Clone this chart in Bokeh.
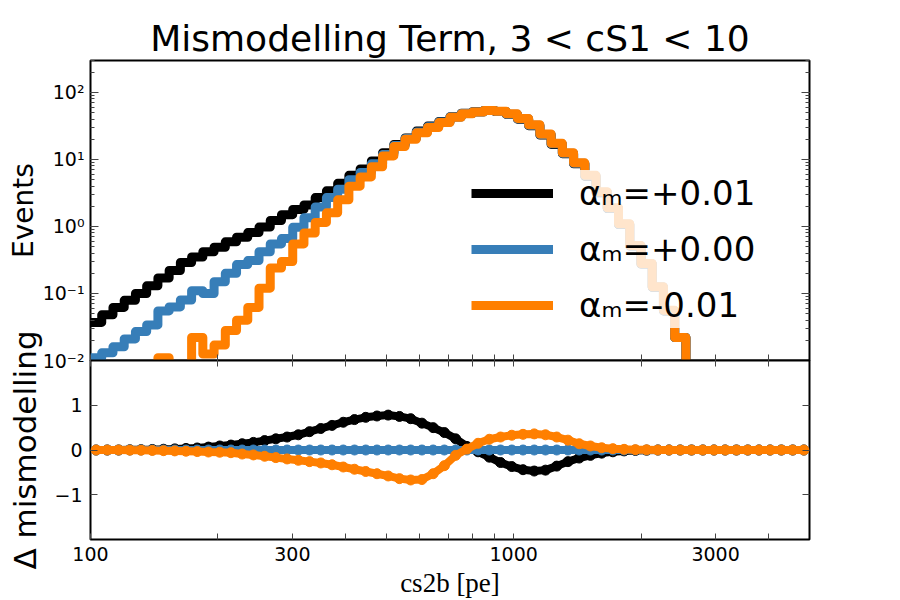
import numpy as np
from bokeh.plotting import figure
from bokeh.layouts import column
from bokeh.models import (Range1d, FixedTicker, LogTicker, LogAxis, LinearAxis,
                          CustomJSTickFormatter, Legend, LegendItem)
from bokeh.embed import file_html
from bokeh.resources import INLINE

# ---------------- data ----------------
TITLE = "Mismodelling Term, 3 < cS1 < 10"
X_LABEL = "cs2b [pe]"
Y_LABEL_TOP = "Events"
Y_LABEL_BOTTOM = "\u0394 mismodelling"
SERIES_LABELS = ["\u03b1\u2098=+0.01", "\u03b1\u2098=+0.00", "\u03b1\u2098=-0.01"]
SERIES_COLORS = ["#000000", "#377eb8", "#ff7f00"]

X_MIN, X_MAX = 100, 5000
N_BINS = 64
bin_edges = np.logspace(np.log10(X_MIN), np.log10(X_MAX), N_BINS + 1)
bin_centers = np.sqrt(bin_edges[:-1] * bin_edges[1:])

x_tick_values = [100, 200, 300, 400, 500, 600, 700, 800, 900, 1000, 2000, 3000, 4000]
x_tick_labels = [100, 300, 1000, 3000]
y_ticks_bottom = [-1, 0, 1]

# events per bin, alpha_m = +0.01
events_plus = [0.037, 0.048, 0.062, 0.079, 0.10, 0.13, 0.17, 0.22, 0.29, 0.35,
               0.42, 0.49, 0.59, 0.69, 0.81, 0.98, 1.23, 1.5, 1.8, 2.1,
               2.7, 3.4, 4.4, 5.8, 7.2, 9.5, 12.6, 16.8,
               21, 26.5, 31.5, 37, 43.5, 49, 51.5, 54, 52, 47, 40, 32,
               23.2, 16.8, 12.2, 8.6, 5.6, 3.2, 1.85, 1.07, 0.51, 0.275,
               0.124, 0.055, 0.022,
               0.008, 0.003, 0, 0, 0, 0, 0, 0, 0, 0, 0]
# alpha_m = +0.00
events_zero = [0.011, 0.013, 0.016, 0.021, 0.027, 0.034, 0.055, 0.063, 0.08, 0.11,
               0.10, 0.15, 0.20, 0.27, 0.31, 0.42, 0.55, 0.66, 0.97, 1.35,
               1.95, 2.7, 3.6, 5.0, 6.4, 8.6, 11.9, 16.2,
               20.5, 25.7, 30.7, 36.2, 43, 48.5, 51.2, 54, 52.2, 47.5, 40.5, 32.5,
               23.6, 17.1, 12.4, 8.75, 5.7, 3.25, 1.87, 1.08, 0.515, 0.277,
               0.125, 0.055, 0.022,
               0.004, 0, 0, 0, 0, 0, 0, 0, 0, 0, 0]
# alpha_m = -0.01
events_minus = [0, 0, 0, 0, 0, 0, 0.011, 0, 0, 0.022,
                0.0125, 0.017, 0.028, 0.04, 0.062, 0.12, 0.24, 0.30, 0.55, 0.80,
                1.15, 1.6, 2.5, 4.0, 5.5, 7.8, 11.3, 15.6,
                20, 25, 30, 35.5, 42.5, 48, 51, 54, 52.5, 48, 41, 33,
                24, 17.4, 12.6, 8.9, 5.8, 3.3, 1.9, 1.1, 0.52, 0.28,
                0.126, 0.056, 0.022,
                0, 0, 0, 0, 0, 0, 0, 0, 0, 0, 0]

# mismodelling difference per bin
delta_plus = [0, 0, 0, 0.005, 0.008, 0.012, 0.017, 0.025, 0.035, 0.045,
              0.065, 0.09, 0.11, 0.14, 0.17, 0.21, 0.25, 0.29, 0.34, 0.41,
              0.48, 0.55, 0.62, 0.68, 0.73, 0.76, 0.78, 0.75, 0.70, 0.60,
              0.50, 0.39, 0.25, 0.08, -0.04, -0.16, -0.28, -0.37, -0.44, -0.47,
              -0.45, -0.36, -0.26, -0.18, -0.12, -0.07, -0.04, -0.02, -0.01, -0.005,
              0, 0, 0, 0, 0, 0, 0, 0, 0, 0, 0, 0, 0, 0]
delta_zero = [0] * 64
delta_minus = [0, 0, 0, -0.003, -0.005, -0.01, -0.015, -0.02, -0.027, -0.035,
               -0.045, -0.05, -0.06, -0.09, -0.11, -0.14, -0.17, -0.2, -0.23, -0.26,
               -0.29, -0.33, -0.38, -0.43, -0.48, -0.53, -0.58, -0.64, -0.67, -0.66,
               -0.53, -0.35, -0.12, 0.02, 0.15, 0.24, 0.29, 0.33, 0.35, 0.36,
               0.34, 0.29, 0.22, 0.14, 0.09, 0.05, 0.03, 0.015, 0.008, 0.004,
               0, 0, 0, 0, 0, 0, 0, 0, 0, 0, 0, 0, 0, 0]

events_series = [events_plus, events_zero, events_minus]
delta_series = [delta_plus, delta_zero, delta_minus]

FONT = "DejaVu Sans"
TICK_COLOR = "#444444"
TEXT_COLOR = "black"

sup_js = """
const e = Math.round(Math.log10(tick));
const sup = {"-": "\\u207b", "0": "\\u2070", "1": "\\u00b9", "2": "\\u00b2", "3": "\\u00b3", "4": "\\u2074"};
let s = "";
for (const c of String(e)) { s += sup[c]; }
return "10" + s;
"""
blank_js = "return '';"

# ---------------- top panel ----------------
top = figure(frame_width=719, frame_height=300,
             x_axis_type="log", y_axis_type="log",
             x_range=Range1d(X_MIN, X_MAX), y_range=Range1d(0.01, 300),
             x_axis_location=None,
             min_border_left=90, min_border_right=91, min_border_top=60, min_border_bottom=15,
             output_backend="svg", toolbar_location=None, title=TITLE)
top.title.text_font = FONT
top.title.text_font_size = "36px"
top.title.text_font_style = "normal"
top.title.text_color = TEXT_COLOR
top.title.align = "center"
top.title.standoff = 3
top.grid.visible = False
top.outline_line_color = "black"
top.outline_line_width = 2
top.outline_line_alpha = 1

renderers = []
for vals, col in zip(events_series, SERIES_COLORS):
    y = [v if v > 0 else 1e-6 for v in vals]
    y = y + [y[-1]]
    r = top.step(bin_edges, y, mode="after", line_color=col, line_width=9,
                 line_join="round")
    renderers.append(r)

yl = top.yaxis[0]
yl.ticker = LogTicker(num_minor_ticks=10)
yl.formatter = CustomJSTickFormatter(code=sup_js)
yl.axis_label = Y_LABEL_TOP
yl.axis_label_text_font = FONT
yl.axis_label_text_font_size = "28px"
yl.axis_label_text_font_style = "normal"
yl.axis_label_text_color = TEXT_COLOR
yl.axis_label_standoff = 0
yl.major_label_text_font = FONT
yl.major_label_text_font_size = "19px"
yl.major_label_text_color = TEXT_COLOR
yl.major_label_standoff = 6
yl.major_tick_in = 8
yl.major_tick_out = 0
yl.minor_tick_in = 4
yl.minor_tick_out = 0
yl.major_tick_line_color = TICK_COLOR
yl.minor_tick_line_color = TICK_COLOR
yl.axis_line_color = None

yr = LogAxis(ticker=LogTicker(num_minor_ticks=10),
             formatter=CustomJSTickFormatter(code=blank_js),
             major_tick_in=8, major_tick_out=0, minor_tick_in=4, minor_tick_out=0,
             major_tick_line_color=TICK_COLOR, minor_tick_line_color=TICK_COLOR,
             axis_line_color=None)
top.add_layout(yr, "right")

legend = Legend(items=[LegendItem(label=lab, renderers=[r])
                       for lab, r in zip(SERIES_LABELS, renderers)],
                location=(381, 32))
legend.label_text_font = FONT
legend.label_text_font_size = "34px"
legend.label_text_color = TEXT_COLOR
legend.glyph_width = 82
legend.glyph_height = 46
legend.label_height = 46
legend.label_standoff = 26
legend.spacing = 10
legend.padding = 8
legend.margin = 0
legend.border_line_color = None
legend.background_fill_color = "white"
legend.background_fill_alpha = 0.8
top.add_layout(legend)

# ---------------- bottom panel ----------------
bottom = figure(frame_width=719, frame_height=179,
                x_axis_type="log", x_range=top.x_range, y_range=Range1d(-2, 2),
                min_border_left=90, min_border_right=91, min_border_top=40, min_border_bottom=61,
                output_backend="svg", toolbar_location=None)
bottom.margin = (-55, 0, 0, 0)
bottom.border_fill_alpha = 0
bottom.background_fill_color = "white"
bottom.grid.visible = False
bottom.outline_line_color = "black"
bottom.outline_line_width = 2
bottom.outline_line_alpha = 1

for vals, col in zip(delta_series, SERIES_COLORS):
    bottom.line(bin_centers, vals, line_color=col, line_width=8)
    bottom.scatter(bin_centers, vals, size=10, fill_color=col, line_color=col)

xl = bottom.xaxis[0]
xl.ticker = FixedTicker(ticks=x_tick_values, minor_ticks=[])
xl.formatter = CustomJSTickFormatter(
    args=dict(show=x_tick_labels),
    code="const t = Math.round(tick); return show.includes(t) ? String(t) : '';")
xl.axis_label = X_LABEL
xl.axis_label_text_font = "Liberation Serif"
xl.axis_label_text_font_size = "27px"
xl.axis_label_text_font_style = "normal"
xl.axis_label_text_color = TEXT_COLOR
xl.axis_label_standoff = 4
xl.major_label_text_font = FONT
xl.major_label_text_font_size = "19px"
xl.major_label_text_color = TEXT_COLOR
xl.major_label_standoff = 7
xl.major_tick_in = 6
xl.major_tick_out = 0
xl.major_tick_line_color = TICK_COLOR
xl.axis_line_color = None

xa = LogAxis(ticker=FixedTicker(ticks=x_tick_values, minor_ticks=[]),
             formatter=CustomJSTickFormatter(code=blank_js),
             major_tick_in=6, major_tick_out=6,
             major_tick_line_color=TICK_COLOR, axis_line_color=None)
bottom.add_layout(xa, "above")

minus_js = "return tick < 0 ? '\\u2212' + Math.abs(tick) : String(tick);"
yb = bottom.yaxis[0]
yb.ticker = FixedTicker(ticks=y_ticks_bottom, minor_ticks=[])
yb.formatter = CustomJSTickFormatter(code=minus_js)
yb.axis_label = Y_LABEL_BOTTOM
yb.axis_label_text_font = FONT
yb.axis_label_text_font_size = "31px"
yb.axis_label_text_font_style = "normal"
yb.axis_label_text_color = TEXT_COLOR
yb.axis_label_standoff = 8
yb.major_label_text_font = FONT
yb.major_label_text_font_size = "19px"
yb.major_label_text_color = TEXT_COLOR
yb.major_label_standoff = 8
yb.major_tick_in = 7
yb.major_tick_out = 0
yb.major_tick_line_color = TICK_COLOR
yb.axis_line_color = None

ybr = LinearAxis(ticker=FixedTicker(ticks=y_ticks_bottom, minor_ticks=[]),
                 formatter=CustomJSTickFormatter(code=blank_js),
                 major_tick_in=7, major_tick_out=0,
                 major_tick_line_color=TICK_COLOR, axis_line_color=None)
bottom.add_layout(ybr, "right")

layout = column(top, bottom, spacing=0)
open("out.html", "w").write(file_html(layout, INLINE))
